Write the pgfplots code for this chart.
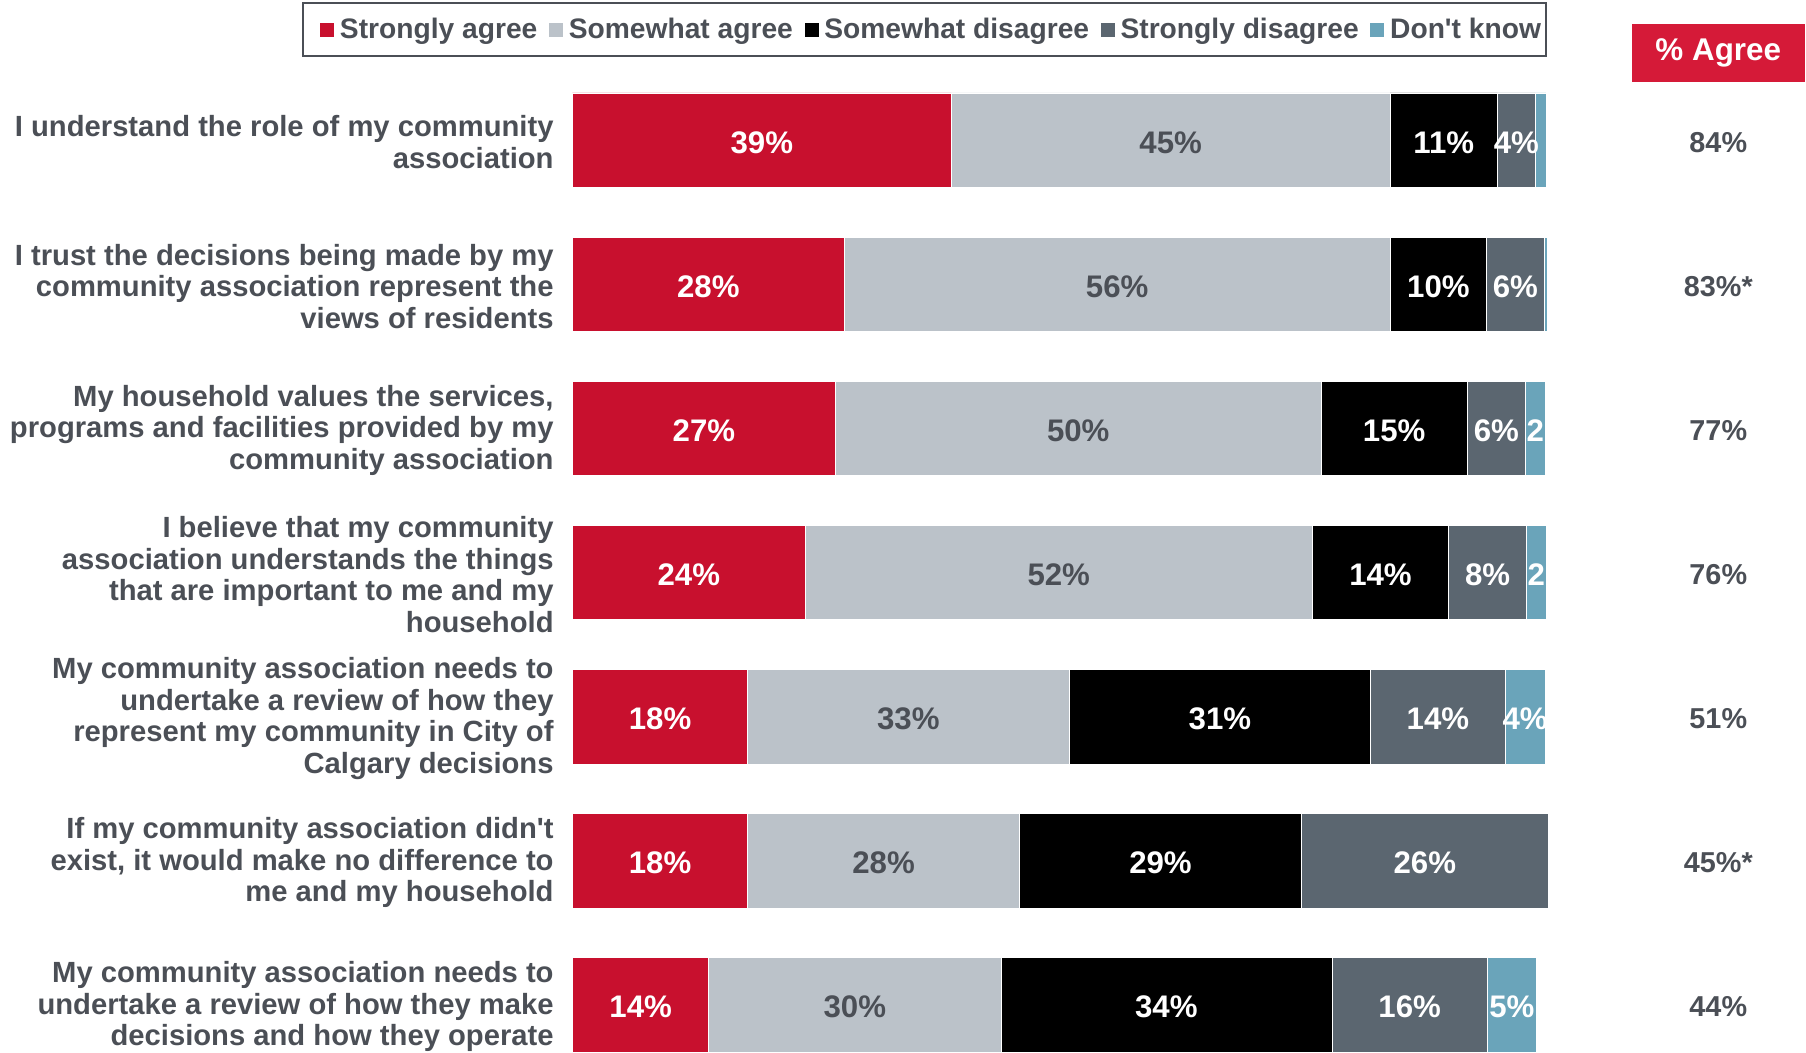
\documentclass[border=0pt]{standalone}
\usepackage{pgfplots}
\pgfplotsset{compat=1.18}
\usepackage{pgfplotstable}
\usepackage{fontspec}
\setmainfont{Liberation Sans}[Ligatures=TeXOff]

\definecolor{sagree}{HTML}{C8102E}
\definecolor{wagree}{HTML}{BBC2C9}
\definecolor{wdis}{HTML}{000000}
\definecolor{sdis}{HTML}{5B6670}
\definecolor{dkn}{HTML}{6AA4BA}
\definecolor{txt}{HTML}{4B4F56}
\definecolor{boxred}{HTML}{D51A38}

% shares per statement (row 0 = top)
\pgfplotstableread{
y sa   wa   wd   sd   dk
0 38.9 45.1 11.0 3.9  1.1
1 27.9 56.1  9.9 5.9  0.3
2 27.0 49.9 15.0 6.0  2.0
3 23.9 52.1 14.0 8.0  2.0
4 18.0 33.0 31.0 13.8 4.1
5 18.0 27.9 29.0 25.3 0.0
6 14.0 30.0 34.0 16.0 5.0
}\data
% printed labels
\pgfplotstableread{
lsa  lwa  lwd  lsd  ldk
39\% 45\% 11\% 4\%  {}
28\% 56\% 10\% 6\%  {}
27\% 50\% 15\% 6\%  2
24\% 52\% 14\% 8\%  2
18\% 33\% 31\% 14\% 4\%
18\% 28\% 29\% 26\% {}
14\% 30\% 34\% 16\% 5\%
}\labs
% segment centres
\pgfplotstablecreatecol[create col/expr={\thisrow{sa}/2}]{msa}\data
\pgfplotstablecreatecol[create col/expr={\thisrow{sa}+\thisrow{wa}/2}]{mwa}\data
\pgfplotstablecreatecol[create col/expr={\thisrow{sa}+\thisrow{wa}+\thisrow{wd}/2}]{mwd}\data
\pgfplotstablecreatecol[create col/expr={\thisrow{sa}+\thisrow{wa}+\thisrow{wd}+\thisrow{sd}/2}]{msd}\data
\pgfplotstablecreatecol[create col/expr={\thisrow{sa}+\thisrow{wa}+\thisrow{wd}+\thisrow{sd}+\thisrow{dk}/2}]{mdk}\data
\pgfplotstablecreatecol[copy column from table={\labs}{lsa}]{lsa}\data
\pgfplotstablecreatecol[copy column from table={\labs}{lwa}]{lwa}\data
\pgfplotstablecreatecol[copy column from table={\labs}{lwd}]{lwd}\data
\pgfplotstablecreatecol[copy column from table={\labs}{lsd}]{lsd}\data
\pgfplotstablecreatecol[copy column from table={\labs}{ldk}]{ldk}\data

\pgfplotsset{frame/.style={
  at={(0pt,0pt)}, anchor=south west,
  width=486.75pt, height=479.5pt, scale only axis,
  xmin=0, xmax=100, ymin=-0.328, ymax=6.328, y dir=reverse,
  clip=false}}
\tikzset{agr/.style={text=txt, yshift=-1.1pt, font=\bfseries\fontsize{14.4}{17}\selectfont}}

\begin{document}
\begin{tikzpicture}
\useasboundingbox (-286.25pt,-0.5pt) rectangle (616.75pt,526pt);
\begin{axis}[
  frame,
  xbar stacked,
  bar width=0.656,
  axis line style={draw=none},
  xtick=\empty,
  ytick={0,...,6},
  major tick length=0pt,
  yticklabels={
    {I understand the role of my community\\association},
    {I trust the decisions being made by my\\community association represent the\\views of residents},
    {My household values the services,\\programs and facilities provided by my\\community association},
    {I believe that my community\\association understands the things\\that are important to me and my\\household},
    {My community association needs to\\undertake a review of how they\\represent my community in City of\\Calgary decisions},
    {If my community association didn't\\exist, it would make no difference to\\me and my household},
    {My community association needs to\\undertake a review of how they make\\decisions and how they operate}},
  yticklabel style={align=right, inner sep=0pt, xshift=-9.25pt, yshift=-1pt, text=txt,
    font=\bfseries\fontsize{14.6}{15.85}\selectfont},
  legend columns=5,
  legend image code/.code={\fill[#1] (0pt,-3.75pt) rectangle (7.5pt,3.75pt);},
  legend style={name=leg, at={(axis description cs:1,1)}, anchor=south east, yshift=18.3pt,
    draw=none, inner xsep=2.3pt, inner ysep=7.2pt,
    font=\bfseries\fontsize{14.1}{16}\selectfont, text=txt,
    nodes={inner sep=0pt},
    /tikz/every odd column/.append style={column sep=2.6pt},
    /tikz/every even column/.append style={column sep=5.3pt}},
]
\addplot[fill=sagree, draw=white, line width=0.3pt] table[x=sa, y=y] {\data};
\addplot[fill=wagree, draw=white, line width=0.3pt] table[x=wa, y=y] {\data};
\addplot[fill=wdis, draw=white, line width=0.3pt] table[x=wd, y=y] {\data};
\addplot[fill=sdis, draw=white, line width=0.3pt] table[x=sd, y=y] {\data};
\addplot[fill=dkn, draw=white, line width=0.3pt] table[x=dk, y=y] {\data};
\legend{Strongly agree, Somewhat agree, Somewhat disagree, Strongly disagree, Don't know}

% % Agree column
\node[fill=boxred, text=white, minimum width=86.5pt, minimum height=29pt, inner sep=0pt,
  font=\bfseries\fontsize{15.7}{18}\selectfont] at (axis cs:117.7,-0.608) {\% Agree};
\node[agr] at (axis cs:117.7,0) {84\%};
\node[agr] at (axis cs:117.7,1) {83\%*};
\node[agr] at (axis cs:117.7,2) {77\%};
\node[agr] at (axis cs:117.7,3) {76\%};
\node[agr] at (axis cs:117.7,4) {51\%};
\node[agr] at (axis cs:117.7,5) {45\%*};
\node[agr] at (axis cs:117.7,6) {44\%};
\end{axis}
% legend frame: wider margin on the left, as in the original
\draw[txt, line width=1pt] ([xshift=-5.5pt]leg.south west) rectangle (leg.north east);

% labels in the middle of each segment
\begin{axis}[
  frame, hide axis,
  point meta=explicit symbolic,
  nodes near coords,
  every node near coord/.append style={anchor=center, text=white, inner sep=0pt, yshift=-1.1pt,
    font=\bfseries\fontsize{15.6}{18}\selectfont},
]
\addplot[draw=none, mark=none, nodes near coords] table[x=msa, y=y, meta=lsa] {\data};
\addplot[draw=none, mark=none, nodes near coords,
  every node near coord/.append style={text=txt}] table[x=mwa, y=y, meta=lwa] {\data};
\addplot[draw=none, mark=none, nodes near coords] table[x=mwd, y=y, meta=lwd] {\data};
\addplot[draw=none, mark=none, nodes near coords] table[x=msd, y=y, meta=lsd] {\data};
\addplot[draw=none, mark=none, nodes near coords] table[x=mdk, y=y, meta=ldk] {\data};
\end{axis}
\end{tikzpicture}
\end{document}
